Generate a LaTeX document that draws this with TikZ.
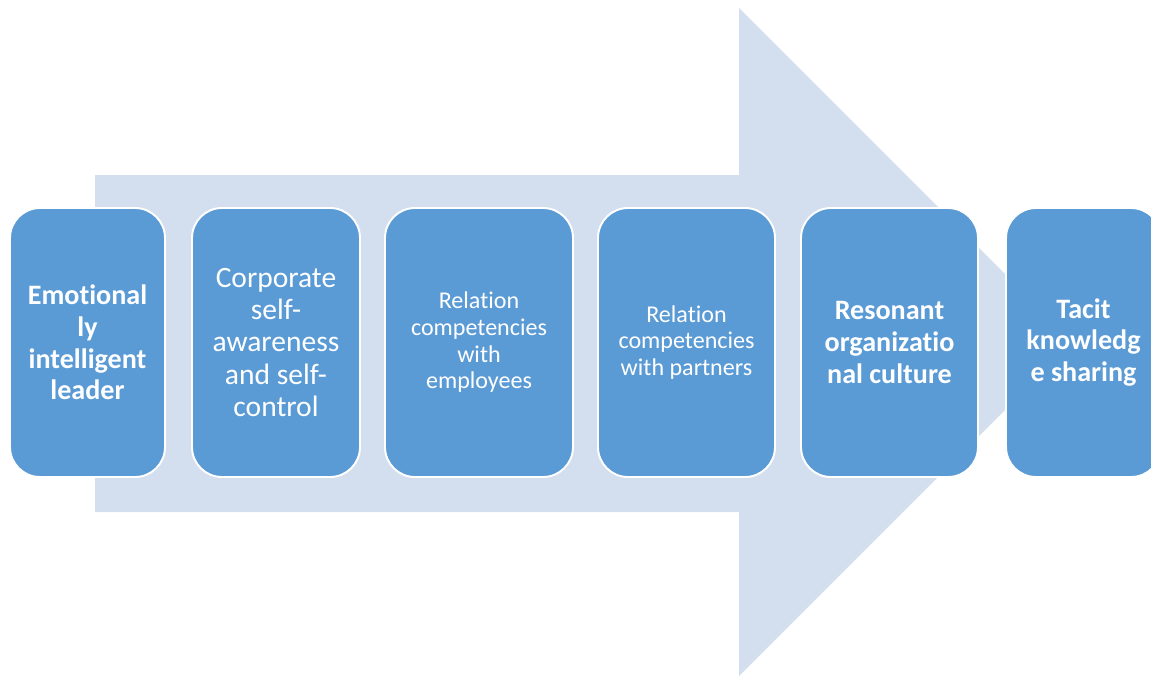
\documentclass[tikz,border=0pt]{standalone}
\usepackage{fontspec}
\setmainfont{Carlito}[Ligatures=NoCommon]
\usepackage{tikz}
\definecolor{arrowblue}{RGB}{211,223,239}
\definecolor{stepblue}{RGB}{91,155,213}
\tikzset{
    stagebox/.style={
        rectangle, rounded corners=0.6cm, fill=stepblue, draw=white, line width=1.1pt,
        minimum width=#1*0.02cm, minimum height=269*0.02cm,
        inner sep=0pt, align=center, text=white
    },
    big/.style={font=\fontsize{16.8}{18.4}\selectfont},
    bigbold/.style={font=\fontsize{16}{18}\selectfont\bfseries},
    small/.style={font=\fontsize{13.7}{15.2}\selectfont},
}

\begin{document}
\begin{tikzpicture}[x=0.02cm, y=-0.02cm]
\useasboundingbox (0,0) rectangle (1151,676);
\clip (0,0) rectangle (1151,676);

% big arrow behind the stages
\fill[arrowblue] (95,175) -- (739,175) -- (739,8) -- (1073,342) -- (739,676) -- (739,512) -- (95,512) -- cycle;

% stages
\node[stagebox=155, bigbold] (leader) at (87.5,342.5) {Emotional\\ly\\intelligent\\leader};
\node[stagebox=168, big] (selfaware) at (276,342.5) {Corporate\\self-\\awareness\\and self-\\control};
\node[stagebox=188, small] (employees) at (479,342.5) {Relation\\competencies\\with\\employees};
\node[stagebox=177, small] (partners) at (686.5,342.5) {Relation\\competencies\\with partners};
\node[stagebox=177, bigbold] (culture) at (889.5,342.5) {Resonant\\organizatio\\nal culture};
\node[stagebox=155, bigbold] (sharing) at (1083.5,342.5) {Tacit\\knowledg\\e sharing};
\end{tikzpicture}
\end{document}
